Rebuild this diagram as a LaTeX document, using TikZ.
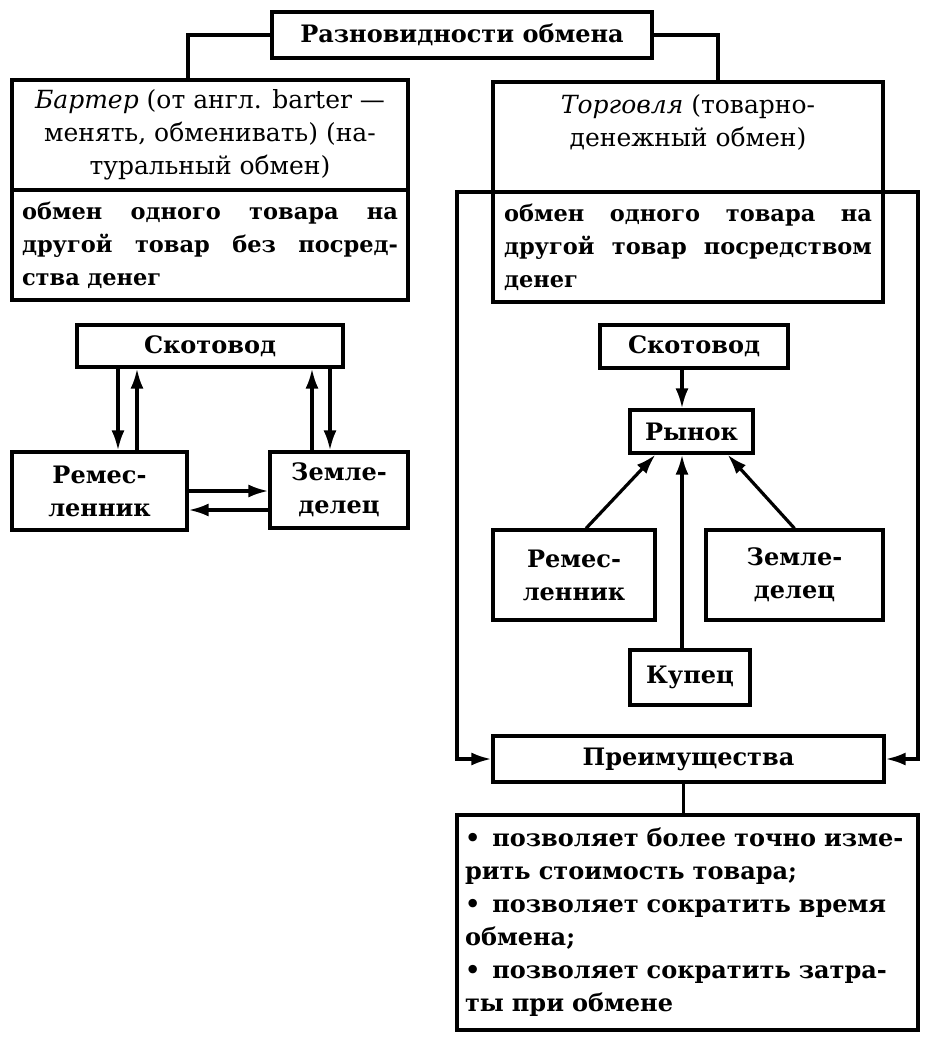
\documentclass[tikz,border=0pt]{standalone}
\usepackage{fontspec}
\setmainfont{DejaVu Serif}
\usetikzlibrary{arrows.meta}
\usetikzlibrary{calc}
\usetikzlibrary{positioning}

\begin{document}
\begin{tikzpicture}[
  x=1pt, y=-1pt,
  > = {Latex[length=20pt,width=13pt]},
  line width=3.2pt,
  kasten/.style = {draw, inner sep=0pt, align=center},
  normal/.style = {font=\fontsize{25}{33}\selectfont},
  fett/.style = {font=\bfseries\fontsize{24}{33}\selectfont},
  deftext/.style = {font=\bfseries\fontsize{22.5}{33}\selectfont, align=left}
  ]
  \useasboundingbox (0,0) rectangle (936,1042);

  % Kopf
  \node[kasten,fett,minimum width=380pt,minimum height=46pt] (titel) at (462,35) {Разновидности обмена};

  % Bartertausch, links
  \node[kasten,normal,minimum width=396pt,minimum height=110pt] (barterkopf) at (210,135)
    {\textit{Бартер} (от англ. barter ---\\менять, обменивать) (на-\\туральный обмен)};
  \node[kasten,deftext,minimum width=396pt,minimum height=110pt,text width=376pt] (barterdef) at (210,245)
    {\makebox[376pt][l]{обмен \hfill одного \hfill товара \hfill на}\\
     \makebox[376pt][l]{другой \hfill товар \hfill без \hfill посред-}\\ства денег};

  \node[kasten,fett,minimum width=266pt,minimum height=42pt] (skotL) at (210,346) {Скотовод};
  \node[kasten,fett,minimum width=175pt,minimum height=78pt] (remL) at (99.5,491) {Ремес-\\ленник};
  \node[kasten,fett,minimum width=138pt,minimum height=76pt] (zemL) at (339,490) {Земле-\\делец};

  % Handel, rechts
  \node[kasten,normal,minimum width=390pt,minimum height=110pt] (torgkopf) at (688,137)
    {\textit{Торговля} (товарно-\\денежный обмен)\\\mbox{}};
  \node[kasten,deftext,minimum width=390pt,minimum height=110pt,text width=368pt] (torgdef) at (688,247)
    {\makebox[368pt][l]{обмен \hfill одного \hfill товара \hfill на}\\
     \makebox[368pt][l]{другой \hfill товар \hfill посредством}\\денег};

  \node[kasten,fett,minimum width=188pt,minimum height=43pt] (skotR) at (694,346.5) {Скотовод};
  \node[kasten,fett,minimum width=123pt,minimum height=43pt] (markt) at (691.5,431.5) {Рынок};
  \node[kasten,fett,minimum width=162pt,minimum height=90pt] (remR) at (574,575) {Ремес-\\ленник};
  \node[kasten,fett,minimum width=177pt,minimum height=90pt] (zemR) at (794.5,575) {Земле-\\делец};
  \node[kasten,fett,minimum width=120pt,minimum height=55pt] (kaufm) at (690,677.5) {Купец};
  \node[kasten,fett,minimum width=391pt,minimum height=46pt] (praem) at (688.5,759) {Преимущества};
  \node[kasten,fett,minimum width=461pt,minimum height=215pt,text width=445pt,align=left] (liste) at (687.5,922.5)
    {\textbullet\hspace{12pt}позволяет более точно изме-\\рить стоимость товара;\\
     \textbullet\hspace{12pt}позволяет сократить время\\обмена;\\
     \textbullet\hspace{12pt}позволяет сократить затра-\\ты при обмене};

  \coordinate (rahmenlo) at (457,192);
  \coordinate (rahmenro) at (918,192);

  % Verbindungen
  \draw (titel.west) -| ([xshift=-22pt]barterkopf.north);
  \draw (titel.east) -| ([xshift=30pt]torgkopf.north);

  \draw[->] ([xshift=18.5pt]remL.north |- skotL.south) -- ([xshift=18.5pt]remL.north);
  \draw[<-] ([xshift=37.5pt]remL.north |- skotL.south) -- ([xshift=37.5pt]remL.north);
  \draw[<-] ([xshift=-27pt]zemL.north |- skotL.south) -- ([xshift=-27pt]zemL.north);
  \draw[->] ([xshift=-9pt]zemL.north |- skotL.south) -- ([xshift=-9pt]zemL.north);
  \draw[->] (remL.east) -- (remL.east -| zemL.west);
  \draw[<-] ([yshift=-19pt]remL.east) -- ([yshift=-19pt]remL.east -| zemL.west);

  \draw[->] ([xshift=-12pt]skotR.south) -- ([xshift=-12pt]skotR.south |- markt.north);
  \draw[->] ([xshift=12pt]remR.north) -- ([xshift=-36pt]markt.south);
  \draw[->] (zemR.north) -- ([xshift=36pt]markt.south);
  \draw[->] ([xshift=-8pt]kaufm.north) -- ([xshift=-8pt]kaufm.north |- markt.south);

  \draw[<->] (praem.west) -| (rahmenlo) -- (rahmenro) |- (praem.east);
  \draw ([xshift=-5pt]praem.south) -- ([xshift=-5pt]praem.south |- liste.north);

\end{tikzpicture}
\end{document}
